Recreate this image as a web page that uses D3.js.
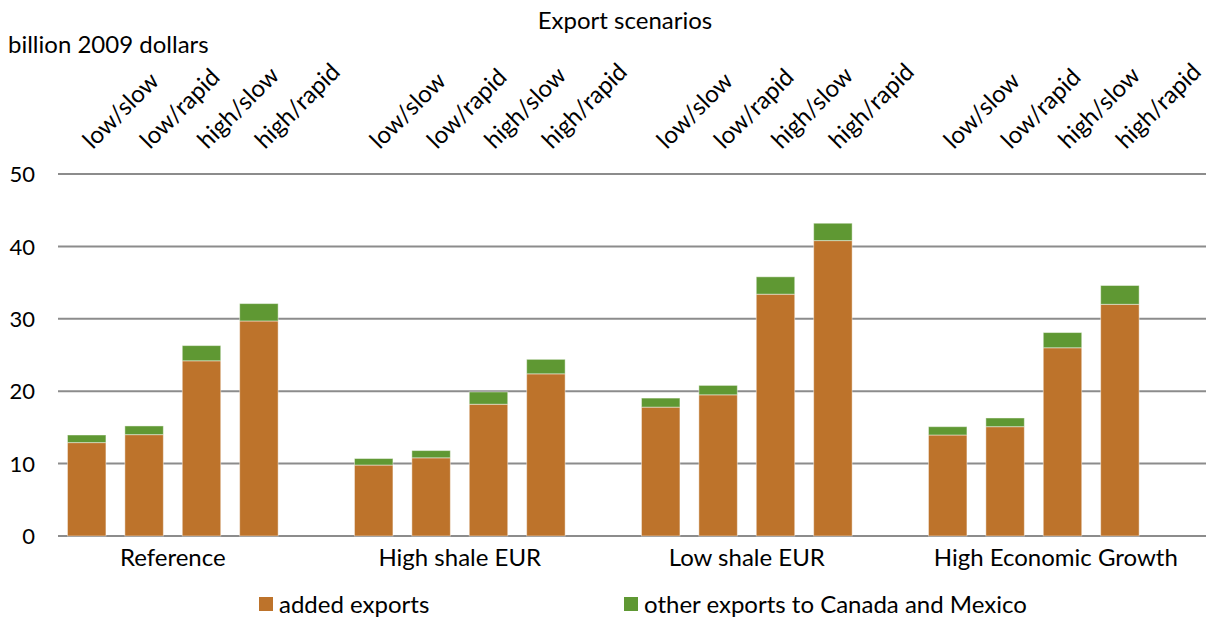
<!DOCTYPE html>
<html>
<head>
<meta charset="utf-8">
<script src="https://cdn.jsdelivr.net/npm/d3@7"></script>
<style>
  body { margin: 0; background: #fff; }
  text { font-family: Lato, "Open Sans", sans-serif; fill: #000; }
</style>
</head>
<body>
<div id="chart"></div>
<script>
// datos
const groups = ['Reference', 'High shale EUR', 'Low shale EUR', 'High Economic Growth'];
const scenarios = ['low/slow', 'low/rapid', 'high/slow', 'high/rapid'];
const addedExports = [
    [12.9, 14.0, 24.2, 29.7],
    [9.8, 10.8, 18.2, 22.4],
    [17.8, 19.5, 33.4, 40.8],
    [13.95, 15.1, 26.0, 32.0]
];
const otherExports = [
    [1.05, 1.2, 2.1, 2.4],
    [0.9, 1.0, 1.7, 2.0],
    [1.25, 1.3, 2.4, 2.4],
    [1.15, 1.2, 2.1, 2.6]
];
const yTicks = [0, 10, 20, 30, 40, 50];
const seriesNames = ['added exports', 'other exports to Canada and Mexico'];
const colors = ['#bd732b', '#5f9833'];

let width = 1206;
let height = 619;
let margin = {top: 174, right: 0, bottom: 82, left: 58};
let fontSize = '24px';

let svg = d3.select('#chart').append('svg')
    .attr('width', width)
    .attr('height', height);

// escalas
let x0 = d3.scaleBand()
    .domain(groups)
    .range([margin.left, width - margin.right]);

// 5 huecos por grupo, el último vacío
let x1 = d3.scaleBand()
    .domain(scenarios.concat(['']))
    .range([0, x0.bandwidth()])
    .paddingInner(0.33)
    .paddingOuter(0.165);

let y = d3.scaleLinear()
    .domain([0, 50])
    .range([height - margin.bottom - 1, margin.top]);

// rejilla
svg.append('g')
    .selectAll('line')
    .data(yTicks)
    .enter()
    .append('line')
    .attr('x1', margin.left)
    .attr('x2', width - margin.right)
    .attr('y1', d => y(d))
    .attr('y2', d => y(d))
    .style('stroke', '#8c8c8c')
    .style('stroke-width', '2px');

// eje y
let yAxis = d3.axisLeft(y).tickValues(yTicks).tickSize(0).tickPadding(0);
let gy = svg.append('g')
    .attr('transform', 'translate(35,0)')
    .call(yAxis);
gy.select('.domain').remove();
gy.selectAll('text')
    .attr('dy', '0.35em')
    .style('font-family', 'Lato, sans-serif')
    .style('font-size', '22px')
    .attr('fill', '#000');

// barras apiladas
let rows = [];
groups.forEach((g, gi) => {
    scenarios.forEach((s, si) => {
        rows.push({group: g, scenario: s, added: addedExports[gi][si], other: otherExports[gi][si]});
    });
});
let stack = d3.stack().keys(['added', 'other'])(rows);

svg.append('g')
    .selectAll('g')
    .data(stack)
    .enter()
    .append('g')
    .attr('fill', (d, i) => colors[i])
    .selectAll('rect')
    .data(d => d)
    .enter()
    .append('rect')
    .attr('x', d => x0(d.data.group) + x1(d.data.scenario))
    .attr('width', x1.bandwidth())
    .attr('y', d => y(d[1]))
    .attr('height', d => y(d[0]) - y(d[1]))
    .style('stroke', 'rgba(255,255,255,0.45)')
    .style('stroke-width', '1px');

// etiquetas de escenario, rotadas
svg.append('g')
    .selectAll('text')
    .data(rows)
    .enter()
    .append('text')
    .attr('transform', d => {
        let cx = x0(d.group) + x1(d.scenario) + x1.bandwidth() / 2 + 6;
        return 'translate(' + cx + ',150) rotate(-45)';
    })
    .style('font-size', fontSize)
    .text(d => d.scenario);

// etiquetas de grupo
let firstX = x1(scenarios[0]);
let lastX = x1(scenarios[scenarios.length - 1]) + x1.bandwidth();
svg.append('g')
    .selectAll('text')
    .data(groups)
    .enter()
    .append('text')
    .attr('x', (d, i) => x0(d) + (firstX + lastX) / 2 + (i == 3 ? 22 : 0))
    .attr('y', 566)
    .attr('text-anchor', 'middle')
    .style('font-size', fontSize)
    .text(d => d);

// títulos
svg.append('text')
    .attr('x', 625)
    .attr('y', 29)
    .attr('text-anchor', 'middle')
    .style('font-size', fontSize)
    .text('Export scenarios');

svg.append('text')
    .attr('x', 8)
    .attr('y', 53)
    .style('font-size', fontSize)
    .text('billion 2009 dollars');

// leyenda
let legendX = [259, 624];
let legend = svg.append('g')
    .selectAll('g')
    .data(seriesNames)
    .enter()
    .append('g')
    .attr('transform', (d, i) => 'translate(' + legendX[i] + ',597)');
legend.append('rect')
    .attr('width', 14)
    .attr('height', 14)
    .attr('fill', (d, i) => colors[i]);
legend.append('text')
    .attr('x', 20)
    .attr('y', 16)
    .style('font-size', fontSize)
    .text(d => d);
</script>
</body>
</html>
